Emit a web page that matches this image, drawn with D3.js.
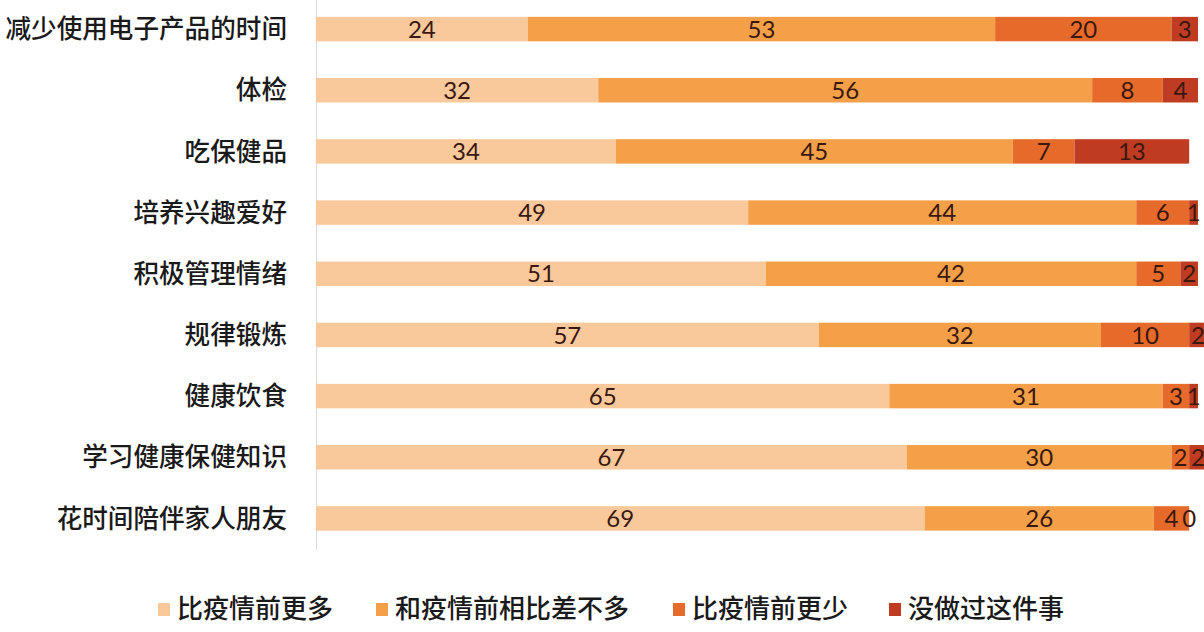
<!DOCTYPE html>
<html>
<head>
<meta charset="utf-8">
<script src="https://cdn.jsdelivr.net/npm/d3@7"></script>
<style>
  body { margin: 0; background: #fff; }
  svg { display: block; }
</style>
</head>
<body>
<svg></svg>
<script>
// data
var categories = ["减少使用电子产品的时间", "体检", "吃保健品", "培养兴趣爱好", "积极管理情绪",
                  "规律锻炼", "健康饮食", "学习健康保健知识", "花时间陪伴家人朋友"];
var seriesNames = ["比疫情前更多", "和疫情前相比差不多", "比疫情前更少", "没做过这件事"];
var more    = [24, 32, 34, 49, 51, 57, 65, 67, 69];
var same    = [53, 56, 45, 44, 42, 32, 31, 30, 26];
var less    = [20, 8, 7, 6, 5, 10, 3, 2, 4];
var never   = [3, 4, 13, 1, 2, 2, 1, 2, 0];
var colors  = ["#f9c99c", "#f4a048", "#e66b2b", "#bf3b22"];

var svgWidth = 1204, svgHeight = 632;

var svg = d3.select("svg").attr("width", svgWidth).attr("height", svgHeight);

var x = d3.scaleLinear().domain([0, 100]).range([316, 1198]);
var y = d3.scaleBand().domain(categories).range([-1.5, 549]).paddingInner(0.6).paddingOuter(0.3);

var rows = categories.map(function(c, i) {
  return {cat: c, v: [more[i], same[i], less[i], never[i]]};
});
var stack = d3.stack().keys([0, 1, 2, 3]).value(function(d, k) { return d.v[k]; });
var layers = stack(rows);

// axis line
svg.append("line")
  .attr("x1", 316.5).attr("x2", 316.5)
  .attr("y1", 0).attr("y2", 550)
  .attr("stroke", "#d9d9d9").attr("stroke-width", 1);

var g = svg.append("g");
layers.forEach(function(layer, k) {
  g.append("g").selectAll("rect").data(layer).enter().append("rect")
    .attr("x", function(d) { return x(d[0]); })
    .attr("y", function(d) { return y(d.data.cat); })
    .attr("width", function(d) { return x(d[1]) - x(d[0]); })
    .attr("height", y.bandwidth())
    .attr("fill", colors[k]);
});
layers.forEach(function(layer, k) {
  g.append("g").selectAll("text").data(layer).enter().append("text")
    .attr("x", function(d) { return (x(d[0]) + x(d[1])) / 2; })
    .attr("y", function(d) { return y(d.data.cat) + y.bandwidth() / 2; })
    .attr("dy", "0.36em")
    .attr("text-anchor", "middle")
    .attr("font-family", "'URW Gothic', 'Lato', 'Noto Sans', sans-serif")
    .attr("font-size", 24)
    .attr("fill", "#3a1810")
    .text(function(d) { return d.data.v[k]; });
});

// category labels
svg.append("g").selectAll("text").data(categories).enter().append("text")
  .attr("x", 287)
  .attr("y", function(d) { return y(d) + y.bandwidth() / 2; })
  .attr("dy", "0.36em")
  .attr("text-anchor", "end")
  .attr("font-family", "'Noto Sans CJK SC', sans-serif")
  .attr("font-size", 25.6)
  .attr("font-weight", 500)
  .attr("fill", "#1a1a1a")
  .text(function(d) { return d; });

// legend
var legendX = [158, 376, 673, 889];
var lg = svg.append("g");
seriesNames.forEach(function(n, i) {
  lg.append("rect").attr("x", legendX[i]).attr("y", 603).attr("width", 12).attr("height", 13)
    .attr("fill", colors[i]);
  lg.append("text").attr("x", legendX[i] + 19).attr("y", 609).attr("dy", "0.36em")
    .attr("font-family", "'Noto Sans CJK SC', sans-serif")
    .attr("font-size", 26).attr("font-weight", 500).attr("fill", "#1a1a1a")
    .text(n);
});
</script>
</body>
</html>
